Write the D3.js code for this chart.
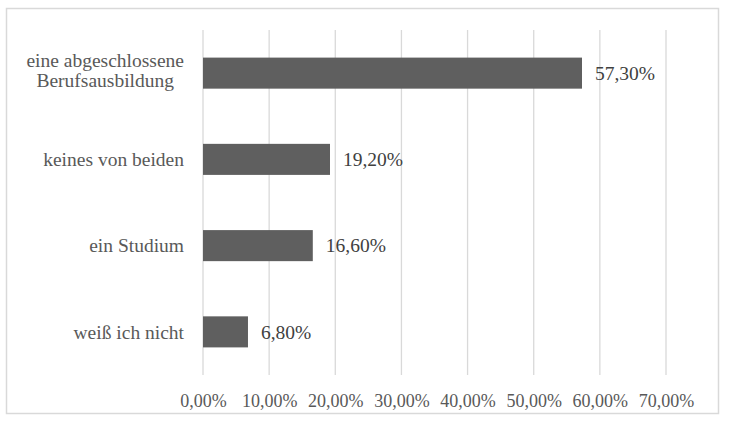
<!DOCTYPE html>
<html>
<head>
<meta charset="utf-8">
<script src="https://cdn.jsdelivr.net/npm/d3@7"></script>
<style>
  body { margin: 0; background: #fff; }
</style>
</head>
<body>
<svg id="chart" width="731" height="428"></svg>
<script>
const categories = [
  "eine abgeschlossene\nBerufsausbildung",
  "keines von beiden",
  "ein Studium",
  "weiß ich nicht"
];
const values = [0.573, 0.192, 0.166, 0.068];
const tickValues = [0, 0.1, 0.2, 0.3, 0.4, 0.5, 0.6, 0.7];

const width = 731;
const height = 428;
const serif = "Liberation Serif";

const de = d3.formatLocale({ decimal: ",", thousands: ".", grouping: [3], currency: ["", " €"] });
const pct = de.format(".2%");

const svg = d3.select("#chart").attr("font-family", serif);

// outer chart border
svg.append("rect")
  .attr("x", 6.5).attr("y", 8.5)
  .attr("width", 712).attr("height", 405)
  .attr("fill", "#fff")
  .attr("stroke", "#d9d9d9")
  .attr("stroke-width", 1.5);

const x = d3.scaleLinear().domain([0, 0.7]).range([203, 666]);
const y = d3.scaleBand()
  .domain(categories)
  .range([30, 375])
  .paddingInner(0.64)
  .paddingOuter(0.32);

// gridlines
svg.append("g")
  .selectAll("line")
  .data(tickValues)
  .join("line")
  .attr("x1", d => x(d)).attr("x2", d => x(d))
  .attr("y1", 30).attr("y2", 375)
  .attr("stroke", "#d9d9d9")
  .attr("stroke-width", 1.3);

// x axis labels
const xAxis = svg.append("g")
  .attr("transform", "translate(0,375)")
  .call(d3.axisBottom(x).tickValues(tickValues).tickFormat(pct).tickSize(0).tickPadding(19));
xAxis.select(".domain").remove();
xAxis.attr("font-family", serif);
xAxis.selectAll("text")
  .attr("font-family", serif)
  .attr("font-size", "18px")
  .attr("fill", "#595959");

// bars
svg.append("g")
  .selectAll("rect")
  .data(values)
  .join("rect")
  .attr("x", x(0))
  .attr("y", (d, i) => y(categories[i]))
  .attr("width", d => x(d) - x(0))
  .attr("height", y.bandwidth())
  .attr("fill", "#5f5f5f");

// value labels
svg.append("g")
  .selectAll("text")
  .data(values)
  .join("text")
  .attr("x", d => x(d) + 13)
  .attr("y", (d, i) => y(categories[i]) + y.bandwidth() / 2)
  .attr("dy", "0.35em")
  .attr("font-family", serif)
  .attr("font-size", "19.5px")
  .attr("fill", "#404040")
  .text(d => pct(d));

// category labels
const labelRight = 184;
const catG = svg.append("g");
categories.forEach(c => {
  const lines = c.split("\n");
  const cy = y(c) + y.bandwidth() / 2 - (lines.length > 1 ? 3 : 0);
  const t = catG.append("text")
    .attr("font-family", serif)
    .attr("font-size", "19.5px")
    .attr("fill", "#595959");
  const lh = 20;
  lines.forEach((ln, j) => {
    t.append("tspan")
      .attr("y", cy + (j - (lines.length - 1) / 2) * lh)
      .attr("dy", "0.35em")
      .text(ln);
  });
  if (lines.length === 1) {
    t.attr("text-anchor", "end").selectAll("tspan").attr("x", labelRight);
  } else {
    // wrapped label: lines centred on the widest line, right edge at labelRight
    const w = d3.max(t.selectAll("tspan").nodes(), n => n.getComputedTextLength());
    t.attr("text-anchor", "middle").selectAll("tspan").attr("x", labelRight - w / 2);
  }
});
</script>
</body>
</html>
